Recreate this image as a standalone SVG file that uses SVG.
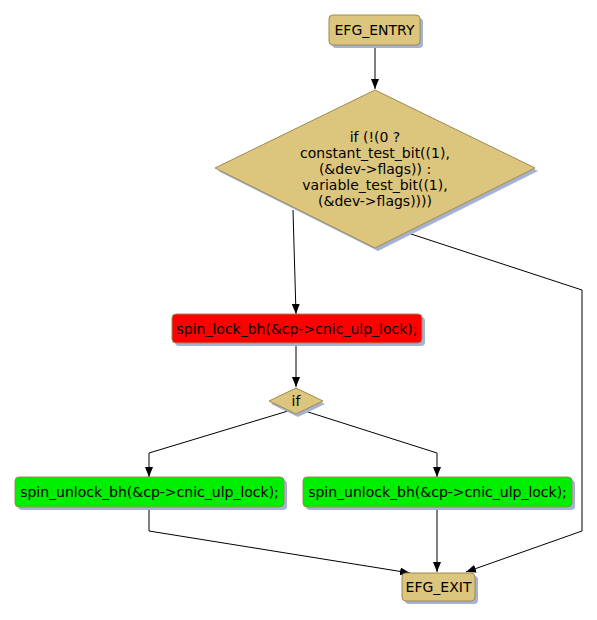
<svg xmlns="http://www.w3.org/2000/svg" width="597" height="620" viewBox="0 0 597 620">
<defs>
<marker id="arr" markerWidth="10" markerHeight="8" refX="10" refY="4" orient="auto" markerUnits="userSpaceOnUse">
<path d="M0,0 L10,4 L0,8 Z" fill="#000"/>
</marker>
<style>
.sh{fill:#a3b3d3}
.tan{fill:#dcc67d;stroke:#a08850;stroke-width:1}
.red{fill:#ff0000;stroke:#a08850;stroke-width:1}
.grn{fill:#00ee00;stroke:#a08850;stroke-width:1}
text{font-family:"DejaVu Sans",Verdana,sans-serif;font-size:14px;fill:#000;text-anchor:middle}
.e{fill:none;stroke:#000;stroke-width:1;marker-end:url(#arr)}
</style>
</defs>
<rect width="597" height="620" fill="#fff"/>
<g id="connectors">
<path class="e" d="M375,45 L375,89"/>
<path class="e" d="M293,210 L296,314"/>
<path class="e" d="M408,233 L582,290 L582,531 L466,572"/>
<path class="e" d="M296,343 L296,387"/>
<path class="e" d="M288,411 L149,453 L149,477"/>
<path class="e" d="M305,411 L437,453 L437,477"/>
<path class="e" d="M149,507 L149,531 L410,573"/>
<path class="e" d="M437,507 L437,572"/>
</g>
<g id="entry">
<rect class="sh" x="332" y="18" width="91" height="30" rx="4"/>
<rect class="tan" x="329" y="15" width="91" height="30" rx="4"/>
<text x="374.5" y="35">EFG_ENTRY</text>
</g>
<g id="cond1">
<polygon class="sh" points="378,93 538,171 378,251 218,171"/>
<polygon class="tan" points="375,90 535,168 375,248 215,168"/>
<text x="375" y="142">if (!(0 ?</text>
<text x="375" y="158">constant_test_bit((1),</text>
<text x="375" y="174">(&amp;dev-&gt;flags)) :</text>
<text x="375" y="190">variable_test_bit((1),</text>
<text x="375" y="206">(&amp;dev-&gt;flags))))</text>
</g>
<g id="lock">
<rect class="sh" x="175" y="317" width="250" height="29" rx="4"/>
<rect class="red" x="172" y="314" width="250" height="29" rx="4"/>
<text x="297" y="333.5">spin_lock_bh(&amp;cp-&gt;cnic_ulp_lock);</text>
</g>
<g id="cond2">
<polygon class="sh" points="298,391 325,404 298,417 271,404"/>
<polygon class="tan" points="296,388 323,401 296,414 269,401"/>
<text x="296" y="406">if</text>
</g>
<g id="unlock1">
<rect class="sh" x="18" y="480" width="269" height="30" rx="4"/>
<rect class="grn" x="15" y="477" width="269" height="30" rx="4"/>
<text x="149.5" y="497">spin_unlock_bh(&amp;cp-&gt;cnic_ulp_lock);</text>
</g>
<g id="unlock2">
<rect class="sh" x="306" y="480" width="269" height="30" rx="4"/>
<rect class="grn" x="303" y="477" width="269" height="30" rx="4"/>
<text x="437.5" y="497">spin_unlock_bh(&amp;cp-&gt;cnic_ulp_lock);</text>
</g>
<g id="exit">
<rect class="sh" x="405" y="576" width="73" height="28" rx="4"/>
<rect class="tan" x="402" y="573" width="73" height="28" rx="4"/>
<text x="438.5" y="592">EFG_EXIT</text>
</g>
</svg>
